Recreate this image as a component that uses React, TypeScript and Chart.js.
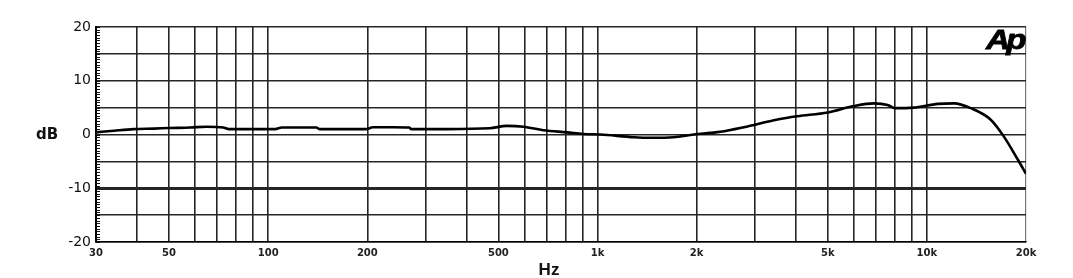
import React, { useEffect, useRef } from "react";
import { Chart, registerables } from "chart.js";

Chart.register(...registerables);

// Frequency response (Hz -> dB)
const frequencies = [
  30, 34, 39, 45, 50, 58, 65, 73, 76, 90, 105, 110, 125, 140, 143, 170, 198, 208, 240, 268, 272,
  350, 470, 530, 596, 685, 810, 906, 1020, 1290, 1450, 1700, 1960, 2200, 2360, 2780, 3520, 4040,
  5000, 6000, 6900, 7600, 8000, 9100, 10800, 12100, 13600, 15600, 17100, 18900, 20000,
];
const levels = [
  0.4, 0.7, 1.0, 1.1, 1.2, 1.3, 1.45, 1.3, 1.0, 1.0, 1.0, 1.3, 1.3, 1.3, 1.0, 1.0, 1.0, 1.35, 1.35, 1.3, 1.0,
  1.0, 1.15, 1.6, 1.45, 0.8, 0.4, 0.1, 0.0, -0.5, -0.6, -0.5, 0.0, 0.3, 0.5, 1.35, 2.8, 3.4,
  4.1, 5.3, 5.8, 5.5, 4.9, 5.0, 5.7, 5.8, 4.9, 2.8, -0.3, -4.7, -7.3,
];

// Axis definitions
const gridFrequencies = [
  30, 40, 50, 60, 70, 80, 90,
  100, 200, 300, 400, 500, 600, 700, 800, 900,
  1000, 2000, 3000, 4000, 5000, 6000, 7000, 8000, 9000,
  10000, 20000,
];
const labeledFrequencies = [30, 50, 100, 200, 500, 1000, 2000, 5000, 10000, 20000];
const yMin = -20;
const yMax = 20;
const yGridStep = 5;
const yLabelStep = 10;
const xTitle = "Hz";
const yTitle = "dB";
const logoText = "Ap";

function formatHz(v: number): string {
  return v >= 1000 ? `${v / 1000}k` : String(v);
}

const decorPlugin = {
  id: "decor",
  afterDraw(chart: any) {
    const ctx = chart.ctx as CanvasRenderingContext2D;
    const area = chart.chartArea;
    const ys = chart.scales.y;
    ctx.save();
    // minor ticks on the left border
    ctx.strokeStyle = "#111";
    ctx.lineWidth = 1;
    ctx.beginPath();
    for (let v = yMin; v <= yMax + 1e-9; v += 0.5) {
      const py = Math.round(ys.getPixelForValue(v)) + 0.5;
      ctx.moveTo(area.left, py);
      ctx.lineTo(area.left + 4, py);
    }
    ctx.stroke();

    // axis titles
    ctx.fillStyle = "#111";
    ctx.textAlign = "center";
    ctx.textBaseline = "middle";
    ctx.font = "bold 15px 'DejaVu Sans', sans-serif";
    ctx.fillText(yTitle, 47, ys.getPixelForValue(0) + 1);
    ctx.font = "bold 17px 'Liberation Sans', Arial, sans-serif";
    ctx.fillText(xTitle, 549, 270);

    // logo
    ctx.fillStyle = "#000";
    ctx.strokeStyle = "#000";
    ctx.lineWidth = 0.8;
    ctx.textAlign = "right";
    ctx.textBaseline = "alphabetic";
    ctx.font = "italic bold 28px 'Liberation Sans', Arial, sans-serif";
    try {
      (ctx as any).letterSpacing = "-3px";
    } catch (e) {}
    ctx.translate(area.right - 3, area.top + 22);
    ctx.scale(1.18, 1);
    ctx.fillText(logoText, 0, 0);
    ctx.strokeText(logoText, 0, 0);
    ctx.restore();
  },
};

export default function App() {
  const canvasRef = useRef<HTMLCanvasElement | null>(null);

  useEffect(() => {
    if (!canvasRef.current) return;
    const chart = new Chart(canvasRef.current, {
      type: "line",
      data: {
        datasets: [
          {
            data: frequencies.map((f, i) => ({ x: f, y: levels[i] })),
            borderColor: "#000",
            borderWidth: 2.6,
            pointRadius: 0,
            cubicInterpolationMode: "monotone",
            fill: false,
          },
        ],
      },
      options: {
        responsive: false,
        animation: false,
        events: [],
        layout: { padding: { top: 27, right: 47, left: 0, bottom: 0 } },
        plugins: {
          legend: { display: false },
          tooltip: { enabled: false },
          title: { display: false },
        },
        scales: {
          x: {
            type: "logarithmic",
            min: 30,
            max: 20000,
            afterBuildTicks: (scale: any) => {
              scale.ticks = gridFrequencies.map((v) => ({ value: v }));
            },
            afterFit: (scale: any) => {
              scale.height = 36;
            },
            grid: {
              drawTicks: false,
              color: (c: any) => (c.tick && c.tick.value === 20000 ? "#7a7a7a" : "#262626"),
              lineWidth: (c: any) => (c.tick && c.tick.value === 20000 ? 1.2 : 1.6),
            },
            border: { display: true, color: "#000", width: 1.6 },
            ticks: {
              autoSkip: false,
              maxRotation: 0,
              minRotation: 0,
              padding: 5,
              color: "#222",
              font: { family: "'DejaVu Sans', sans-serif", size: 10, weight: "bold" },
              callback: (v: any) => (labeledFrequencies.includes(Number(v)) ? formatHz(Number(v)) : ""),
            },
          },
          y: {
            type: "linear",
            min: yMin,
            max: yMax,
            afterFit: (scale: any) => {
              scale.width = 96;
            },
            grid: {
              drawTicks: false,
              color: "#262626",
              lineWidth: (c: any) => (c.tick && c.tick.value === -10 ? 3 : 1.5),
            },
            border: { display: true, color: "#000", width: 2 },
            ticks: {
              stepSize: yGridStep,
              padding: 5,
              color: "#111",
              font: { family: "'DejaVu Sans', sans-serif", size: 14 },
              callback: (v: any) => (Number(v) % yLabelStep === 0 ? String(v) : ""),
            },
          },
        },
      },
      plugins: [decorPlugin],
    } as any);
    return () => chart.destroy();
  }, []);

  return (
    <div style={{ position: "fixed", left: 0, top: 0, width: 1073, height: 278, background: "#fff" }}>
      <canvas ref={canvasRef} width={1073} height={278} />
    </div>
  );
}
